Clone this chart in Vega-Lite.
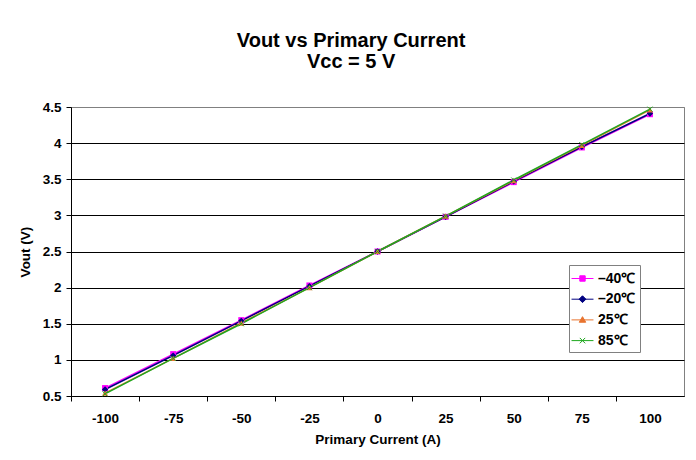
{
  "$schema": "https://vega.github.io/schema/vega-lite/v6.json",
  "autosize": "none",
  "width": 613,
  "height": 289,
  "padding": {"left": 71, "top": 107, "right": 12, "bottom": 64},
  "background": "white",
  "title": {
    "text": ["Vout vs Primary Current", "Vcc = 5 V"],
    "font": "Liberation Sans",
    "fontSize": 20,
    "fontWeight": "bold",
    "color": "black",
    "lineHeight": 21.5,
    "anchor": "middle",
    "frame": "bounds",
    "offset": 28
  },
  "data": {
    "values": [
      {"series": "–40℃", "current": -100, "vout": 0.61},
      {"series": "–40℃", "current": -75, "vout": 1.08},
      {"series": "–40℃", "current": -50, "vout": 1.55},
      {"series": "–40℃", "current": -25, "vout": 2.03},
      {"series": "–40℃", "current": 0, "vout": 2.5},
      {"series": "–40℃", "current": 25, "vout": 2.98},
      {"series": "–40℃", "current": 50, "vout": 3.46},
      {"series": "–40℃", "current": 75, "vout": 3.94},
      {"series": "–40℃", "current": 100, "vout": 4.40},
      {"series": "–20℃", "current": -100, "vout": 0.59},
      {"series": "–20℃", "current": -75, "vout": 1.06},
      {"series": "–20℃", "current": -50, "vout": 1.54},
      {"series": "–20℃", "current": -25, "vout": 2.02},
      {"series": "–20℃", "current": 0, "vout": 2.5},
      {"series": "–20℃", "current": 25, "vout": 2.98},
      {"series": "–20℃", "current": 50, "vout": 3.47},
      {"series": "–20℃", "current": 75, "vout": 3.95},
      {"series": "–20℃", "current": 100, "vout": 4.41},
      {"series": "25℃", "current": -100, "vout": 0.54},
      {"series": "25℃", "current": -75, "vout": 1.02},
      {"series": "25℃", "current": -50, "vout": 1.51},
      {"series": "25℃", "current": -25, "vout": 2.0},
      {"series": "25℃", "current": 0, "vout": 2.5},
      {"series": "25℃", "current": 25, "vout": 2.99},
      {"series": "25℃", "current": 50, "vout": 3.48},
      {"series": "25℃", "current": 75, "vout": 3.97},
      {"series": "25℃", "current": 100, "vout": 4.46},
      {"series": "85℃", "current": -100, "vout": 0.53},
      {"series": "85℃", "current": -75, "vout": 1.02},
      {"series": "85℃", "current": -50, "vout": 1.50},
      {"series": "85℃", "current": -25, "vout": 2.0},
      {"series": "85℃", "current": 0, "vout": 2.5},
      {"series": "85℃", "current": 25, "vout": 2.99},
      {"series": "85℃", "current": 50, "vout": 3.49},
      {"series": "85℃", "current": 75, "vout": 3.98},
      {"series": "85℃", "current": 100, "vout": 4.47}
    ]
  },
  "encoding": {
    "x": {
      "field": "current",
      "type": "quantitative",
      "scale": {"domain": [-112.5, 112.5], "nice": false, "zero": false},
      "axis": {
        "title": "Primary Current (A)",
        "values": [-100, -75, -50, -25, 0, 25, 50, 75, 100, 125],
        "labelExpr": "datum.value > 100 ? '' : toString(datum.value)",
        "tickOffset": -34.06,
        "labelOffset": 34.06,
        "labelFlush": false,
        "labelOverlap": false,
        "labelBound": false,
        "grid": false,
        "labelPadding": 10,
        "titlePadding": 8
      }
    },
    "y": {
      "field": "vout",
      "type": "quantitative",
      "scale": {"domain": [0.5, 4.5], "nice": false, "zero": false},
      "axis": {
        "title": "Vout (V)",
        "values": [0.5, 1, 1.5, 2, 2.5, 3, 3.5, 4, 4.5],
        "format": "~g",
        "grid": true,
        "gridColor": {"condition": {"test": "datum.value >= 4.5", "value": "#808080"}, "value": "black"},
        "labelPadding": 5,
        "titlePadding": 10
      }
    }
  },
  "resolve": {"legend": {"color": "independent", "shape": "independent", "stroke": "independent"}},
  "layer": [
    {
      "mark": {"type": "line", "strokeWidth": 1.5},
      "encoding": {
        "color": {
          "field": "series", "type": "nominal", "sort": null,
          "scale": {"domain": ["–40℃", "–20℃", "25℃", "85℃"], "range": ["#FF00FF", "#000080", "#E8742F", "#1EA81E"]},
          "legend": null
        }
      }
    },
    {
      "transform": [{"filter": {"field": "series", "equal": "–40℃"}}],
      "mark": {"type": "point", "shape": "square", "filled": true, "opacity": 1, "size": 36},
      "encoding": {"color": {"field": "series", "type": "nominal", "sort": null, "legend": null}}
    },
    {
      "transform": [{"filter": {"field": "series", "equal": "–20℃"}}],
      "mark": {"type": "point", "shape": "diamond", "filled": true, "opacity": 1, "size": 40},
      "encoding": {"color": {"field": "series", "type": "nominal", "sort": null, "legend": null}}
    },
    {
      "transform": [{"filter": {"field": "series", "equal": "25℃"}}],
      "mark": {"type": "point", "shape": "triangle-up", "filled": true, "opacity": 1, "size": 36},
      "encoding": {"color": {"field": "series", "type": "nominal", "sort": null, "legend": null}}
    },
    {
      "transform": [{"filter": {"field": "series", "equal": "85℃"}}],
      "mark": {"type": "point", "shape": "M-1,-1L1,1M-1,1L1,-1", "filled": false, "opacity": 1, "size": 25, "strokeWidth": 1},
      "encoding": {"color": {"field": "series", "type": "nominal", "sort": null, "legend": null}}
    },
    {
      "mark": {"type": "point", "filled": true, "opacity": 1, "size": 0, "strokeWidth": 1},
      "encoding": {
        "color": {
          "field": "series", "type": "nominal", "sort": null,
          "legend": {
            "title": null,
            "orient": "none",
            "legendX": 498,
            "legendY": 158,
            "fillColor": "white",
            "strokeColor": "#808080",
            "padding": 4,
            "labelFont": "Liberation Sans",
            "labelFontSize": 14,
            "labelFontWeight": "bold",
            "labelColor": "black",
            "labelOffset": 6,
            "rowPadding": 3.7,
            "symbolSize": 324,
            "symbolStrokeWidth": 1
          }
        },
        "shape": {
          "field": "series", "type": "nominal", "sort": null,
          "scale": {
            "domain": ["–40℃", "–20℃", "25℃", "85℃"],
            "range": [
              "M-1.22,0H1.22M-0.3,-0.3H0.3V0.3H-0.3Z",
              "M-1.22,0H1.22M0,-0.38L0.38,0L0,0.38L-0.38,0Z",
              "M-1.22,0H1.22M0,-0.36L0.36,0.26L-0.36,0.26Z",
              "M-1.22,0H1.22M-0.3,-0.3L0.3,0.3M-0.3,0.3L0.3,-0.3"
            ]
          }
        },
        "stroke": {
          "field": "series", "type": "nominal", "sort": null,
          "scale": {"domain": ["–40℃", "–20℃", "25℃", "85℃"], "range": ["#FF00FF", "#000080", "#E8742F", "#1EA81E"]}
        }
      }
    }
  ],
  "config": {
    "view": {"stroke": "#808080", "strokeWidth": 1},
    "axis": {
      "labelFont": "Liberation Sans",
      "titleFont": "Liberation Sans",
      "labelFontWeight": "bold",
      "titleFontWeight": "bold",
      "labelFontSize": 13.5,
      "titleFontSize": 13.5,
      "labelColor": "black",
      "titleColor": "black",
      "domainColor": "black",
      "tickColor": "black",
      "tickSize": 5
    }
  }
}
